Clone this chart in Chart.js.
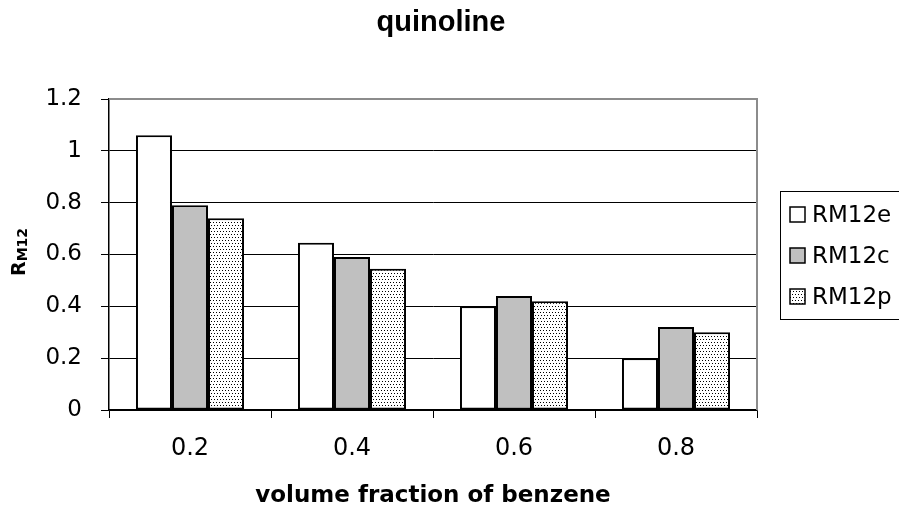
<!DOCTYPE html>
<html>
<head>
<meta charset="utf-8">
<title>quinoline</title>
<script src="https://cdn.jsdelivr.net/npm/chart.js@4.4.1/dist/chart.umd.min.js"></script>
<style>
  html, body { margin: 0; padding: 0; background: #fff; }
  #wrap { width: 899px; height: 511px; }
</style>
</head>
<body>
<div id="wrap"><canvas id="chart" width="899" height="511"></canvas></div>
<script>
// values per volume fraction of benzene
var categories = ['0.2', '0.4', '0.6', '0.8'];
var rm12e = [1.06, 0.645, 0.40, 0.20];
var rm12c = [0.79, 0.59, 0.44, 0.32];
var rm12p = [0.74, 0.545, 0.42, 0.30];
var seriesNames = ['RM12e', 'RM12c', 'RM12p'];
var yTickLabels = ['0', '0.2', '0.4', '0.6', '0.8', '1', '1.2'];

// small dotted fill for the third series
function dotPattern() {
    var c = document.createElement('canvas');
    c.width = 6;
    c.height = 6;
    var g = c.getContext('2d');
    g.fillStyle = '#fff';
    g.fillRect(0, 0, 6, 6);
    g.fillStyle = '#000';
    g.fillRect(0, 0, 1, 1);
    g.fillRect(3, 0, 1, 1);
    g.fillRect(1, 3, 1, 1);
    g.fillRect(4, 3, 1, 1);
    return g.createPattern(c, 'repeat');
}

var fills = ['#ffffff', '#c0c0c0', dotPattern()];

// title, axis titles, legend box and plot border
var decorations = {
    id: 'decorations',
    beforeDatasetsDraw: function(chart) {
        var ctx = chart.ctx;
        var a = chart.chartArea;
        ctx.save();
        ctx.strokeStyle = '#8c8c8c';
        ctx.lineWidth = 2;
        ctx.beginPath();
        ctx.moveTo(a.left, a.top);
        ctx.lineTo(a.right, a.top);
        ctx.lineTo(a.right, a.bottom);
        ctx.stroke();
        ctx.restore();
    },
    afterDraw: function(chart) {
        var ctx = chart.ctx;
        var a = chart.chartArea;
        ctx.save();
        ctx.fillStyle = '#000';

        ctx.font = 'bold 29px "Liberation Sans", Arial, sans-serif';
        ctx.textAlign = 'center';
        ctx.textBaseline = 'alphabetic';
        ctx.fillText('quinoline', 441, 31);

        ctx.font = 'bold 23px "DejaVu Sans", sans-serif';
        ctx.fillText('volume fraction of benzene', (a.left + a.right) / 2, 502);

        // y title: R with subscript M12
        ctx.save();
        ctx.translate(25, 276);
        ctx.rotate(-Math.PI / 2);
        ctx.textAlign = 'left';
        ctx.font = 'bold 19px "DejaVu Sans", sans-serif';
        ctx.fillText('R', 0, 0);
        var w = ctx.measureText('R').width;
        ctx.font = 'bold 14px "DejaVu Sans", sans-serif';
        ctx.fillText('M12', w, 2);
        ctx.restore();

        // legend
        ctx.strokeStyle = '#000';
        ctx.lineWidth = 1;
        ctx.strokeRect(780.5, 191.5, 140, 128);
        ctx.font = '23px "DejaVu Sans", sans-serif';
        ctx.textAlign = 'left';
        chart.data.datasets.forEach(function(ds, i) {
            var cy = 214 + i * 41;
            ctx.fillStyle = ds.backgroundColor;
            ctx.fillRect(790, cy - 7, 15, 15);
            ctx.lineWidth = 1.5;
            ctx.strokeStyle = '#000';
            ctx.strokeRect(790, cy - 7, 15, 15);
            ctx.fillStyle = '#000';
            ctx.fillText(ds.label, 812, cy + 8);
        });
        ctx.restore();
    }
};

var ctx = document.getElementById('chart').getContext('2d');

var chart = new Chart(ctx, {
    type: 'bar',
    data: {
        labels: categories,
        datasets: [
            { label: seriesNames[0], data: rm12e, backgroundColor: fills[0] },
            { label: seriesNames[1], data: rm12c, backgroundColor: fills[1] },
            { label: seriesNames[2], data: rm12p, backgroundColor: fills[2] }
        ].map(function(d) {
            d.borderColor = '#000';
            d.borderWidth = 2;
            d.borderSkipped = false;
            d.categoryPercentage = 0.667;
            d.barPercentage = 1.0;
            return d;
        })
    },
    options: {
        responsive: false,
        animation: false,
        events: [],
        layout: { padding: { left: 0, top: 99, right: 142, bottom: 0 } },
        plugins: {
            legend: { display: false },
            title: { display: false },
            tooltip: { enabled: false }
        },
        scales: {
            x: {
                afterFit: function(s) { s.height = 101; },
                grid: {
                    offset: true,
                    drawOnChartArea: false,
                    drawTicks: true,
                    tickLength: 8,
                    color: '#000'
                },
                border: { display: true, color: '#000', width: 1.5 },
                ticks: {
                    color: '#000',
                    padding: 16,
                    font: { family: 'DejaVu Sans', size: 24 }
                }
            },
            y: {
                min: 0,
                max: 1.2,
                afterFit: function(s) { s.width = 109; },
                grid: {
                    color: '#000',
                    lineWidth: 1,
                    tickLength: 8
                },
                border: { display: true, color: '#000', width: 1.5 },
                ticks: {
                    stepSize: 0.2,
                    color: '#000',
                    padding: 19,
                    font: { family: 'DejaVu Sans', size: 23 },
                    callback: function(v, i) { return yTickLabels[i]; }
                }
            }
        }
    },
    plugins: [decorations]
});
</script>
</body>
</html>
